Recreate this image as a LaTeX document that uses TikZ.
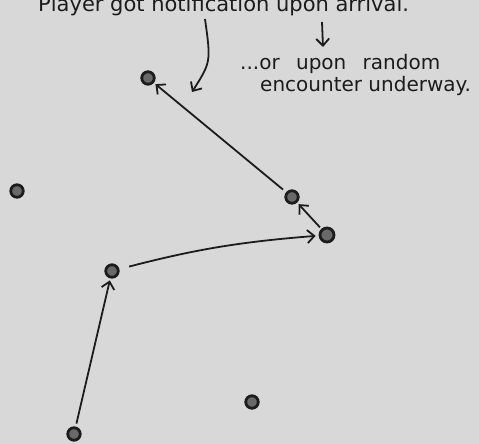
\documentclass[tikz,border=0pt]{standalone}
\usepackage{fontspec}
\setmainfont{DejaVu Sans}
\usetikzlibrary{arrows.meta,positioning}
\definecolor{paper}{RGB}{216,216,216}
\definecolor{ink}{RGB}{28,28,28}
\definecolor{dotfill}{RGB}{105,105,105}

\begin{document}
\begin{tikzpicture}[x=1pt,y=-1pt,
  dot/.style={circle,draw=ink,fill=dotfill,line width=2.8pt,inner sep=0pt,minimum size=12.5pt},
  hop/.style={-{Straight Barb[length=7pt,width=13pt]},ink,line width=1.8pt},
  note/.style={font=\fontsize{20}{24}\selectfont,text=ink,anchor=base west,inner sep=0pt}]
\clip (0,0) rectangle (479,444);
\fill[paper] (0,0) rectangle (479,444);
% handwritten notes
\node[note,font=\fontsize{21}{24}\selectfont] (arrival) at (38,12) {Player got notification upon arrival.};
\node[note] (random) at (240,70) {...or\hspace{10pt} upon\hspace{10pt} random};
\node[note] (encounter) at (260,92) {encounter underway.};
% stops on the map
\foreach \n/\x/\y in {a/148/78, b/292/197, d/112/271, e/17/191, f/252/402, g/74/434}
  \node[dot] (\n) at (\x,\y) {};
\node[dot,minimum size=14pt] (c) at (327,235) {};
% the route
\draw[hop,shorten <=3pt,shorten >=2pt] (g) -- (d);
\draw[hop,shorten <=10pt,shorten >=3pt] (d) to[bend left=5] (c);
\draw[hop,shorten <=2pt,shorten >=2pt] (c) -- (b);
\draw[hop,shorten <=4pt,shorten >=2pt] (b) -- (a);
% pointers from the notes
\coordinate (notif) at (205,19);
\coordinate (notifend) at (192,92);
\coordinate (upon) at (322,22);
\coordinate (uponend) at (323,47);
\draw[hop] (notif) .. controls (211,62) .. (notifend);
\draw[hop] (upon) -- (uponend);
\end{tikzpicture}
\end{document}
